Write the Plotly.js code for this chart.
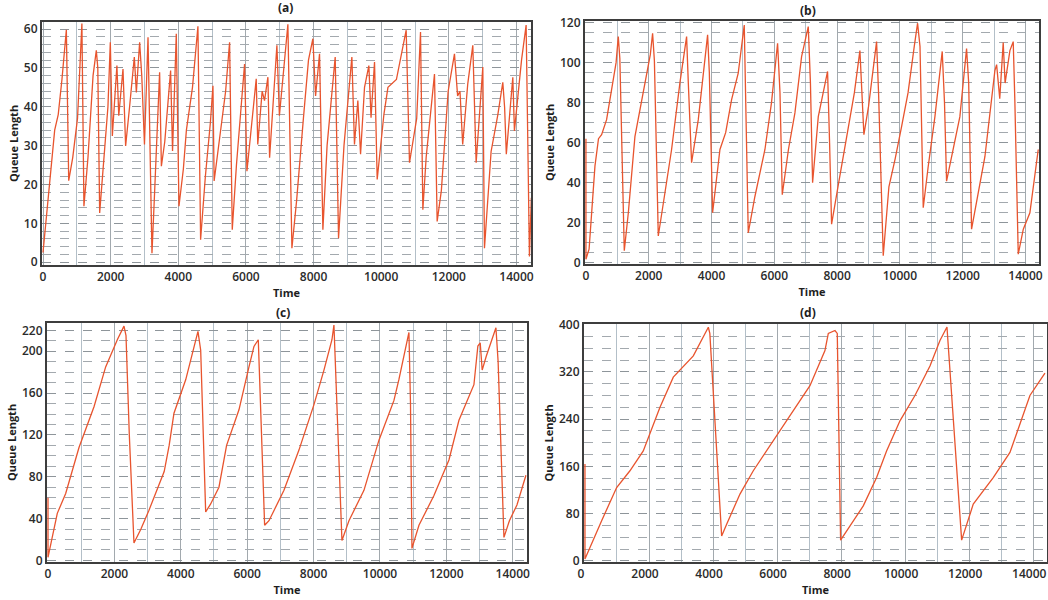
<!DOCTYPE html>
<html>
<head>
<meta charset="utf-8">
<script src="https://cdn.plot.ly/plotly-3.0.1.min.js"></script>
<style>
  html, body { margin: 0; padding: 0; background: #fff; }
  #chart { width: 1048px; height: 600px; }
</style>
</head>
<body>
<div id="chart"></div>
<script>
// ---------- data ----------
const panelTitles = ["(a)", "(b)", "(c)", "(d)"];
const xTitle = "Time";
const yTitle = "Queue Length";
const timeTicks = [0, 2000, 4000, 6000, 8000, 10000, 12000, 14000];

const yTicksA = [0, 10, 20, 30, 40, 50, 60];
const yTicksB = [0, 20, 40, 60, 80, 100, 120];
const yTicksC = [0, 40, 80, 120, 160, 200, 220];
const yTicksD = [0, 80, 160, 240, 320, 400];

const timeA = [0,120,250,345,450,560,690,760,880,1020,1150,1210,1330,1480,1576,1620,1675,1770,1920,1990,2050,2185,2240,2365,2443,2560,2700,2760,2857,2920,3000,3105,3150,3222,3300,3448,3500,3600,3773,3830,3941,4020,4150,4240,4420,4581,4660,4800,4950,5025,5060,5250,5400,5517,5596,5720,5800,5960,6030,6150,6305,6350,6480,6550,6650,6700,6800,6916,6990,7100,7241,7360,7500,7700,7850,7980,8060,8177,8276,8400,8640,8739,8900,9133,9210,9310,9390,9507,9635,9700,9803,9882,10080,10200,10450,10739,10837,11050,11163,11232,11330,11576,11655,11780,11980,12167,12260,12330,12410,12560,12709,12808,13005,13054,13250,13450,13596,13650,13700,13892,13940,14150,14286,14384,14440];
const queueA = [2.5,14,27,34,38,47,59.8,21,27,37,61.4,14.4,27,48,54.5,50,12.7,24,40,56.6,32.5,50.6,37.7,49.7,29.9,40,52.8,43.7,56.6,48,30.3,57.9,38,2.3,18,48.9,24.7,31,49.3,28.6,58.8,14.4,24,34,45,60.7,5.8,22,36,45.4,20.9,34,44,56.6,8.4,25,33,51,23.4,33.8,47.2,30.3,44,41.6,47.6,26.9,40,55.8,37.7,48,61.2,3.6,16,37,52,57.5,42.8,53.6,8.4,30,52.8,6.2,30,52.8,30.3,41.6,27.8,45,50.6,37.2,51.5,21.3,38,45,47,59.7,25.6,37,59.2,13.5,27,48.4,10.5,18.5,44,53.6,42.8,44,30.3,45.9,55.8,25.6,50.2,3.6,28.5,38,46.3,39.8,27.8,47.6,33.8,52,61,1.5,16.6];

const timeB = [0,0,100,287,400,499,658,870,960,1030,1080,1221,1350,1560,1879,2050,2123,2180,2304,2500,2728,2994,3206,3260,3365,3578,3740,3875,3930,4034,4268,4450,4639,4850,5042,5100,5170,5380,5701,5910,6104,6180,6253,6450,6656,6868,7081,7150,7219,7400,7537,7696,7760,7824,8050,8355,8550,8726,8800,8853,9000,9257,9320,9469,9650,9850,10053,10260,10456,10563,10640,10743,10900,11115,11348,11420,11486,11650,11910,12123,12190,12282,12490,12707,13025,13080,13180,13240,13290,13350,13503,13609,13660,13769,13930,14140,14299,14406];
const queueB = [62,1.8,6.8,48.3,62,64,71.5,93,100,113,102,6,25,63,90,104,114.7,101,13.4,33,56.6,90,113,90,50,71.5,94,113.9,95,25,56.6,65,81.5,94.8,118.8,75,15,33,56.6,80,109.7,85,34,56.6,74.9,103,118,90,40,73,83,95.6,60,19.3,40,66.6,85,106,85,64,78,110.5,85,3.5,38,52,68,85,108,119.7,108,27.5,48,73,105.6,80,40.8,53,73,107,90,16.8,35,53,96,99,82,96,110,89.8,106,110.5,81.5,4.3,16.8,25,45,56.6];

const timeC = [0,0,100,280,533,834,934,1386,1737,2088,2219,2289,2350,2450,2590,2800,3042,3500,3650,3795,4148,4449,4518,4600,4750,4900,5150,5380,5753,6054,6205,6335,6390,6526,6657,7108,7560,8012,8313,8554,8614,8700,8855,9066,9518,9970,10422,10572,10813,10873,10920,10964,11175,11627,12078,12380,12831,12950,13020,13080,13200,13494,13560,13735,13900,14127,14398];
const queueC = [60,3,18,45,64,99,108,147,185,211,220.6,224,215,120,16.6,30,48,85,110,140.7,172.7,211,219,201,46.3,54,70,110,144,185,204.6,211,156,33.6,38,67,105.5,149,182,211,225,150,19,38,67,115,153,173,211,218,150,11.5,33.6,62,96,134,168,205,208,182,195,222.5,190,22,38,53,81.5];

const timeD = [0,0,521,990,1405,1821,2343,2759,3384,3645,3853,3900,4269,4425,4841,5257,5674,6402,7027,7495,7600,7808,7880,7984,8172,8692,9108,9420,9838,10306,10775,11087,11306,11764,12127,12751,13273,13897,14366];
const queueD = [164,3,68,124,152.5,186,260,311,347,373,395.5,385,42,62,113,152.5,186,245.8,296.6,356,385,390,385,35,51,93,141,186,237,280,330,373,396,35,96,141,183.5,280,318];

// ---------- styling ----------
const lineColor = "rgb(232,84,46)";
const fam = "'Open Sans', 'Noto Sans', sans-serif";
const tickFont = {family: fam, size: 12, color: "#2b2b2b", weight: 600};
const titleFont = {family: fam, size: 11, color: "#1e1e1e", weight: 700};

function xAxis(domain, anchor, shift) {
  return {
    domain: domain, anchor: anchor, range: [-30, 14430],
    tickmode: "array", tickvals: timeTicks, ticktext: timeTicks.map(String),
    ticks: "", showgrid: true, gridcolor: "#a2a9ae", gridwidth: 1,
    minor: {tickmode: "linear", tick0: 0, dtick: 1000, showgrid: true, gridcolor: "#b3bfc8", gridwidth: 1},
    showline: true, mirror: true, linecolor: "#3d3d3d", linewidth: 2,
    zeroline: false, tickfont: tickFont, automargin: false, fixedrange: true,
    ticklabeloverflow: "allow", ticklabelshift: shift || 0,
    title: {text: xTitle, font: titleFont, standoff: 2}
  };
}
function yAxis(domain, anchor, range, ticks, minorStep) {
  return {
    domain: domain, anchor: anchor, range: range,
    tickmode: "array", tickvals: ticks, ticktext: ticks.map(String),
    ticks: "", showgrid: true, gridcolor: "#8e959a", gridwidth: 1, griddash: "dash",
    minor: {tickmode: "linear", tick0: 0, dtick: minorStep, showgrid: true, gridcolor: "#a3a9ae", gridwidth: 1, griddash: "dash"},
    showline: true, mirror: true, linecolor: "#3d3d3d", linewidth: 2,
    zeroline: false, tickfont: tickFont, automargin: false, fixedrange: true,
    ticklabeloverflow: "allow",
    title: {text: yTitle, font: titleFont, standoff: 3}
  };
}

const W = 1048, H = 600;
const dx = (a, b) => [a / W, b / W];
const dy = (top, bottom) => [1 - bottom / H, 1 - top / H];

const mk = (x, y, xa, ya) => ({x: x, y: y, xaxis: xa, yaxis: ya, type: "scatter", mode: "lines",
  line: {color: lineColor, width: 1.3}, hoverinfo: "skip", showlegend: false});

const data = [
  mk(timeA, queueA, "x", "y"),
  mk(timeB, queueB, "x2", "y2"),
  mk(timeC, queueC, "x3", "y3"),
  mk(timeD, queueD, "x4", "y4")
];

const titlePos = [[285, 8], [808, 10], [283, 313], [808, 312]];
const annotations = panelTitles.map((t, i) => ({
  text: t, xref: "paper", yref: "paper",
  x: titlePos[i][0] / W, y: 1 - titlePos[i][1] / H,
  xanchor: "center", yanchor: "middle", showarrow: false,
  font: {family: fam, size: 12, color: "#1e1e1e", weight: 700}
}));

const layout = {
  width: W, height: H,
  margin: {l: 0, r: 0, t: 0, b: 0},
  paper_bgcolor: "#ffffff", plot_bgcolor: "#ffffff",
  showlegend: false,
  xaxis: xAxis(dx(42, 531), "y"),
  yaxis: yAxis(dy(22, 265), "x", [-0.7, 61.8], yTicksA, 2),
  xaxis2: xAxis(dx(585, 1039), "y2"),
  yaxis2: yAxis(dy(21, 264), "x2", [-0.6, 120.8], yTicksB, 5),
  xaxis3: xAxis(dx(47, 527), "y3"),
  yaxis3: yAxis(dy(323, 562), "x3", [-1.5, 227], yTicksC, 10),
  xaxis4: xAxis(dx(584, 1047), "y4", -4),
  yaxis4: yAxis(dy(324, 562), "x4", [-2, 401], yTicksD, 20),
  annotations: annotations
};

Plotly.newPlot("chart", data, layout, {staticPlot: true, displayModeBar: false});
</script>
</body>
</html>
